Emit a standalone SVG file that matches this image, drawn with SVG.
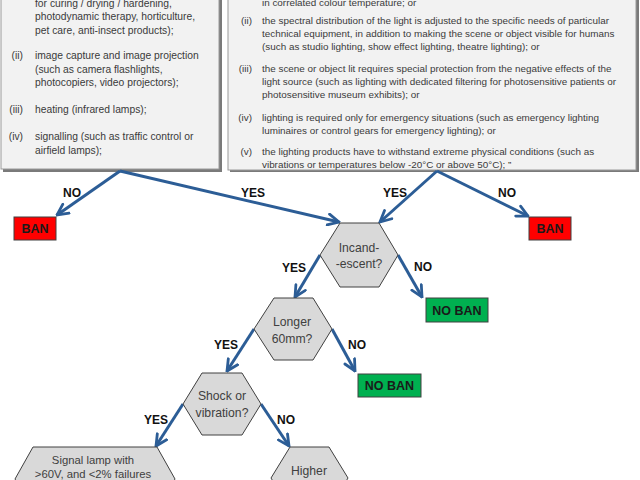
<svg xmlns="http://www.w3.org/2000/svg" width="640" height="480" viewBox="0 0 640 480">
<defs>
<style>
.panel{fill:#f2f2f2;stroke:#9a9a9a;stroke-width:1}
.shadow{fill:#7a7a7a}
.bt{font-family:"Liberation Sans",Arial,sans-serif;fill:#3a3a3a}
.lt{font-size:10.3px}
.rt{font-size:9.9px}
.num{text-anchor:end}
.hex{fill:#d9d9d9;stroke:#404040;stroke-width:1}
.ht{font-family:"Liberation Sans",Arial,sans-serif;font-size:12.2px;fill:#404040;text-anchor:middle}
.ban{fill:#ff0000;stroke:#404040;stroke-width:1}
.noban{fill:#00b050;stroke:#404040;stroke-width:1}
.bx{font-family:"Liberation Sans",Arial,sans-serif;font-weight:bold;font-size:12.5px;fill:#1a1a1a;text-anchor:middle}
.conn{stroke:#2c5d96;stroke-width:3;fill:none;marker-end:url(#arr)}
.lbl{font-family:"Liberation Sans",Arial,sans-serif;font-weight:bold;font-size:12px;fill:#111;text-anchor:middle}
</style>
<marker id="arr" viewBox="0 0 14 14" refX="12.5" refY="7" markerWidth="14" markerHeight="14" markerUnits="userSpaceOnUse" orient="auto">
<path d="M1.5,1.5 L12.5,7 L1.5,12.5" fill="none" stroke="#2c5d96" stroke-width="2.8" stroke-linejoin="miter" stroke-linecap="round"/>
</marker>
</defs>
<rect width="640" height="480" fill="#ffffff"/>

<g id="exemptions-left">
<rect class="shadow" x="3" y="-10" width="219" height="182"/>
<rect class="panel" x="1" y="-12" width="218" height="181"/>
<g class="bt lt">
<text x="35" y="6.5">for curing / drying / hardening,</text>
<text x="35" y="20">photodynamic therapy, horticulture,</text>
<text x="35" y="33.5">pet care, anti-insect products);</text>
<text class="num" x="23" y="59">(ii)</text>
<text x="35" y="59">image capture and image projection</text>
<text x="35" y="72.5">(such as camera flashlights,</text>
<text x="35" y="86">photocopiers, video projectors);</text>
<text class="num" x="23" y="113">(iii)</text>
<text x="35" y="113">heating (infrared lamps);</text>
<text class="num" x="23" y="140">(iv)</text>
<text x="35" y="140">signalling (such as traffic control or</text>
<text x="35" y="153.5">airfield lamps);</text>
</g>
</g>

<g id="exemptions-right">
<rect class="shadow" x="230" y="-10" width="409" height="182"/>
<rect class="panel" x="228" y="-12" width="408" height="182"/>
<g class="bt rt">
<text x="262" y="5.5">in correlated colour temperature; or</text>
<text class="num" x="252" y="24">(ii)</text>
<text x="262" y="24">the spectral distribution of the light is adjusted to the specific needs of particular</text>
<text x="262" y="37">technical equipment, in addition to making the scene or object visible for humans</text>
<text x="262" y="50">(such as studio lighting, show effect lighting, theatre lighting); or</text>
<text class="num" x="252" y="71.5">(iii)</text>
<text x="262" y="71.5">the scene or object lit requires special protection from the negative effects of the</text>
<text x="262" y="84.5">light source (such as lighting with dedicated filtering for photosensitive patients or</text>
<text x="262" y="97.5">photosensitive museum exhibits); or</text>
<text class="num" x="252" y="120.5">(iv)</text>
<text x="262" y="120.5">lighting is required only for emergency situations (such as emergency lighting</text>
<text x="262" y="133.5">luminaires or control gears for emergency lighting); or</text>
<text class="num" x="252" y="154.5">(v)</text>
<text x="262" y="154.5">the lighting products have to withstand extreme physical conditions (such as</text>
<text x="262" y="167.5">vibrations or temperatures below -20°C or above 50°C); ”</text>
</g>
</g>

<g id="connectors">
<line class="conn" x1="120" y1="171" x2="57" y2="215"/>
<line class="conn" x1="120" y1="171" x2="339" y2="222"/>
<line class="conn" x1="437" y1="171" x2="380" y2="222"/>
<line class="conn" x1="437" y1="171" x2="528" y2="216"/>
<line class="conn" x1="398" y1="255" x2="422" y2="297"/>
<line class="conn" x1="320" y1="255" x2="295" y2="297"/>
<line class="conn" x1="332" y1="329" x2="355" y2="371"/>
<line class="conn" x1="254" y1="329" x2="227" y2="371"/>
<line class="conn" x1="261" y1="404" x2="289" y2="446"/>
<line class="conn" x1="183" y1="404" x2="156" y2="446"/>
<g id="connector-labels">
<text class="lbl" x="72" y="197">NO</text>
<text class="lbl" x="253" y="197">YES</text>
<text class="lbl" x="395" y="197">YES</text>
<text class="lbl" x="507" y="197">NO</text>
<text class="lbl" x="294" y="272">YES</text>
<text class="lbl" x="423" y="271">NO</text>
<text class="lbl" x="226" y="349">YES</text>
<text class="lbl" x="357" y="349">NO</text>
<text class="lbl" x="156" y="424">YES</text>
<text class="lbl" x="286" y="424">NO</text>
</g>
</g>

<g id="ban-left">
<rect class="ban" x="14" y="217" width="42" height="23"/>
<text class="bx" x="35" y="233">BAN</text>
</g>
<g id="ban-right">
<rect class="ban" x="529" y="217" width="42" height="23"/>
<text class="bx" x="550" y="233">BAN</text>
</g>

<g id="incandescent">
<polygon class="hex" points="340,223 379,223 398,255 379,287 340,287 320,255"/>
<text class="ht" x="359" y="251.5">Incand-</text>
<text class="ht" x="359" y="268">-escent?</text>
</g>

<g id="noban-1">
<rect class="noban" x="426" y="298" width="62" height="24"/>
<text class="bx" x="457" y="314.5">NO BAN</text>
</g>

<g id="longer">
<polygon class="hex" points="274,298 313,298 332,329 313,360 274,360 254,329"/>
<text class="ht" x="292" y="326">Longer</text>
<text class="ht" x="292" y="343">60mm?</text>
</g>

<g id="noban-2">
<rect class="noban" x="358" y="374" width="63" height="23"/>
<text class="bx" x="389.5" y="390">NO BAN</text>
</g>

<g id="shock">
<polygon class="hex" points="202,373 242,373 261,404 242,435 202,435 183,404"/>
<text class="ht" x="222" y="400">Shock or</text>
<text class="ht" x="222" y="417">vibration?</text>
</g>

<g id="signal-lamp">
<polygon class="hex" points="33,447 157,447 175,479 157,511 33,511 15,479"/>
<text class="ht" x="93" y="464" style="font-size:11.3px">Signal lamp with</text>
<text class="ht" x="93" y="477.5" style="font-size:11.3px">&gt;60V, and &lt;2% failures</text>
</g>

<g id="higher">
<polygon class="hex" points="290,447 329,447 348,478 329,509 290,509 271,478"/>
<text class="ht" x="309" y="475">Higher</text>
</g>
</svg>
